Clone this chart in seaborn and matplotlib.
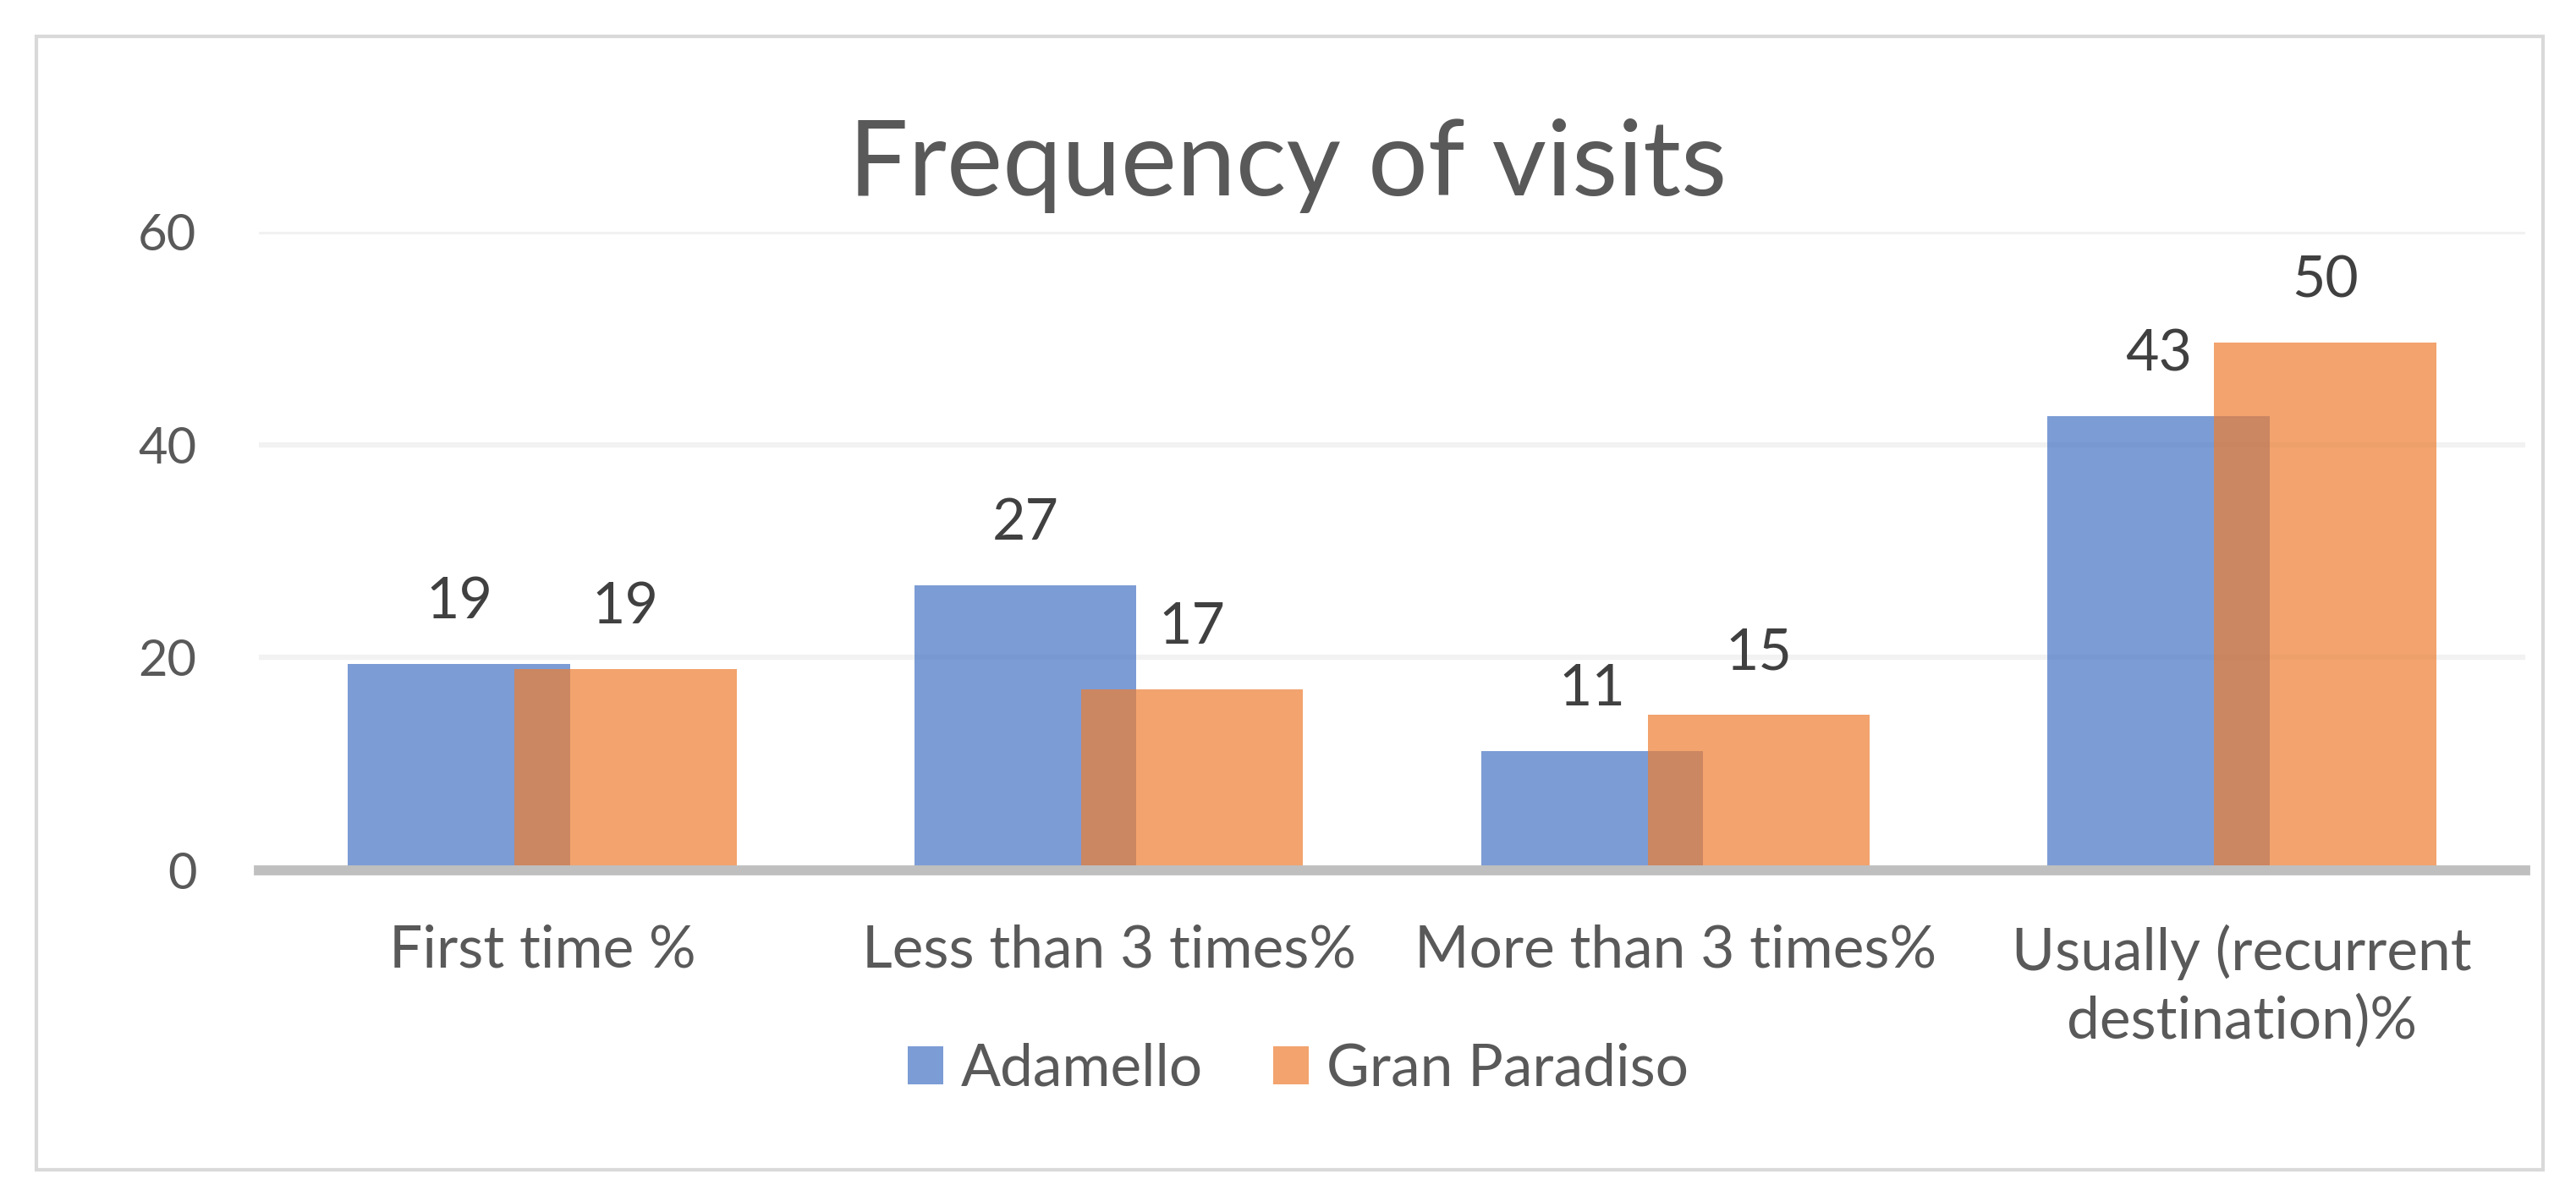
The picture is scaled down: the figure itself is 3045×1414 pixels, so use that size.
import matplotlib
matplotlib.use('Agg')
import matplotlib.pyplot as plt
from matplotlib.patches import Rectangle
import pandas as pd
import seaborn as sns

categories = ['First time %', 'Less than 3 times%', 'More than 3 times%',
              'Usually (recurrent\ndestination)%']
adamello = [19.4, 26.8, 11.2, 42.7]
gran_paradiso = [18.9, 17.0, 14.6, 49.6]
series = ['Adamello', 'Gran Paradiso']
yticks = [0, 20, 40, 60]

df = pd.DataFrame({
    'category': categories * 2,
    'value': adamello + gran_paradiso,
    'park': [series[0]] * 4 + [series[1]] * 4,
})

sns.set_style('white')
plt.rcParams['font.family'] = ['Lato', 'DejaVu Sans']

fig = plt.figure(figsize=(30.45, 14.14), dpi=100)
ax = fig.add_axes([0.1005, 0.2723, 0.8798, 0.5339])

sns.barplot(data=df, x='category', y='value', hue='park', hue_order=series,
            order=categories, palette=['#4472C4', '#ED7D31'], saturation=1,
            alpha=0.7, width=0.588, gap=-0.333, linewidth=0, ax=ax)

for cont in ax.containers:
    ax.bar_label(cont, fmt='%.0f', padding=30, fontsize=49, color='#404040')

ax.set_ylim(0, 60)
ax.set_yticks(yticks)
ax.set(xlabel='', ylabel='')
ax.yaxis.grid(True, color='#F2F2F2', lw=4.5)
ax.set_axisbelow(True)
for s in ['top', 'left', 'right']:
    ax.spines[s].set_visible(False)
ax.spines['bottom'].set_color('#BFBFBF')
ax.spines['bottom'].set_linewidth(8.5)
ax.tick_params(axis='y', length=0, pad=53, labelsize=43, labelcolor='#595959')
ax.tick_params(axis='x', length=0, pad=46, labelsize=50, labelcolor='#595959')
for lbl in ax.get_xticklabels():
    lbl.set_linespacing(1.3)

handles, labels = ax.get_legend_handles_labels()
ax.get_legend().remove()
fig.legend(handles, labels, loc='center', bbox_to_anchor=(0.504, 1 - 1264 / 1414),
           ncol=2, frameon=False, fontsize=50, labelcolor='#595959',
           handlelength=0.6, handleheight=0.62, handletextpad=0.3,
           columnspacing=1.2)

fig.text(0.5, 1 - 196 / 1414, 'Frequency of visits', ha='center', va='center',
         fontsize=90, color='#595959')

fig.patches.append(Rectangle((43 / 3045, 1 - 1383 / 1414), (3006 - 43) / 3045,
                             (1383 - 43) / 1414, transform=fig.transFigure,
                             fill=False, edgecolor='#D9D9D9', lw=3))

fig.savefig('out.png', dpi=100)
